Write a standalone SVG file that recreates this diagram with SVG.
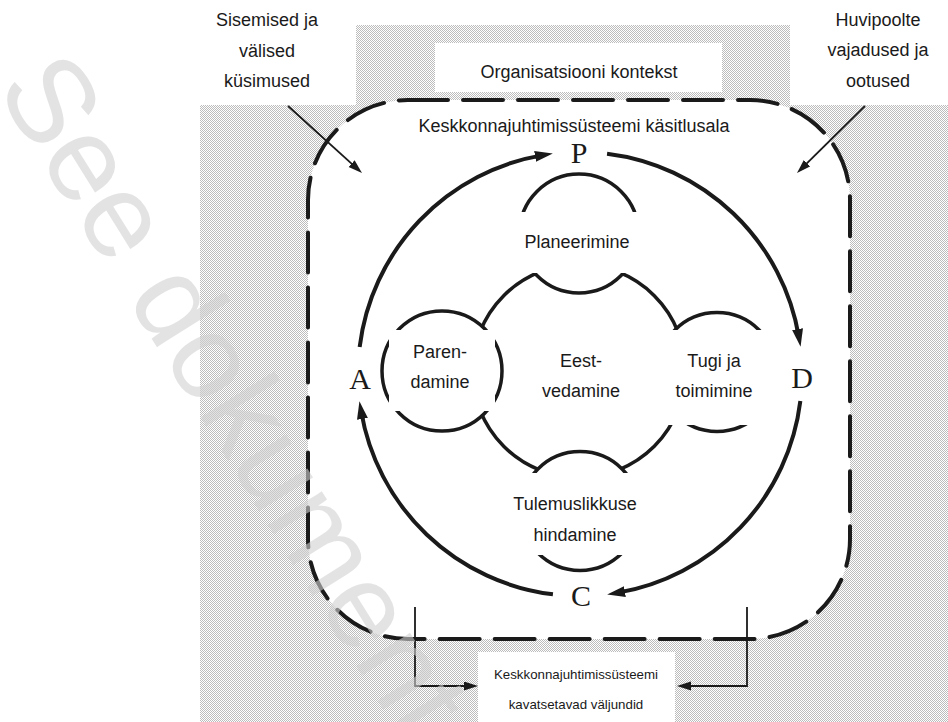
<svg xmlns="http://www.w3.org/2000/svg" width="948" height="722" viewBox="0 0 948 722">
<defs>
<pattern id="dots" width="2" height="2" patternUnits="userSpaceOnUse">
<rect width="2" height="2" fill="#ffffff"/>
<rect width="1" height="1" fill="#bcbcbc"/>
<rect x="1" y="1" width="1" height="1" fill="#bcbcbc"/>
</pattern>
<marker id="big" markerUnits="userSpaceOnUse" markerWidth="20" markerHeight="12" refX="8" refY="5.5" orient="auto">
<path d="M0,0 L18,5.5 L0,11 Z" fill="#1a1a1a"/>
</marker>
<marker id="small" markerUnits="userSpaceOnUse" markerWidth="15" markerHeight="10" refX="7" refY="4.5" orient="auto">
<path d="M0,0 L14,4.5 L0,9 Z" fill="#1a1a1a"/>
</marker>
<style>
.t{font-family:"Liberation Sans",Arial,sans-serif;font-size:18px;fill:#1a1a1a;text-anchor:middle}
.s{font-size:13.3px}
.L{font-family:"Liberation Serif","Times New Roman",serif;font-size:30px;fill:#1a1a1a;text-anchor:middle}
.cyc{fill:none;stroke:#1a1a1a;stroke-width:4;marker-end:url(#big)}
.thin{fill:none;stroke:#1a1a1a;stroke-width:1.8}
.c{fill:#ffffff;stroke:#1a1a1a;stroke-width:3.5}
.box{fill:#ffffff;stroke:none}
.wm{font-family:"Liberation Sans",Arial,sans-serif;font-size:120px;fill:#d0d0d0;fill-opacity:0.6}
</style>
</defs>
<rect width="948" height="722" fill="#ffffff"/>
<path d="M356,25 H790 V105 H948 V722 H200 V105 H356 Z" fill="url(#dots)"/>
<g id="context">
<rect class="box" x="435" y="43" width="287" height="49"/>
<text class="t" x="579" y="78">Organisatsiooni kontekst</text>
</g>
<g id="scope">
<rect x="308" y="100" width="542" height="539" rx="100" ry="100" fill="#ffffff" stroke="#1a1a1a" stroke-width="4" stroke-dasharray="40 15" stroke-linecap="round"/>
<text class="t" x="574" y="132">Keskkonnajuhtimissüsteemi käsitlusala</text>
</g>
<g id="issues">
<text class="t" x="267" y="26">Sisemised ja</text>
<text class="t" x="267" y="57">välised</text>
<text class="t" x="267" y="87">küsimused</text>
</g>
<g id="needs">
<text class="t" x="878" y="26">Huvipoolte</text>
<text class="t" x="878" y="56">vajadused ja</text>
<text class="t" x="878" y="87">ootused</text>
</g>
<g id="outputs">
<rect class="box" x="478" y="652" width="197" height="70"/>
<text class="t s" x="576" y="679">Keskkonnajuhtimissüsteemi</text>
<text class="t s" x="576" y="709">kavatsetavad väljundid</text>
</g>
<g id="connectors">
<path class="thin" d="M288,106 L356.8,168.3" marker-end="url(#small)"/>
<path class="thin" d="M865,106 L802,168.1" marker-end="url(#small)"/>
<path class="thin" d="M415,607 V686 H471" marker-end="url(#small)"/>
<path class="thin" d="M747,607 V686 H684" marker-end="url(#small)"/>
<path class="cyc" d="M359.65,346.94 A222,222 0 0 1 542.98,155.11"/>
<path class="cyc" d="M607.06,153.65 A222,222 0 0 1 798.89,336.98"/>
<path class="cyc" d="M800.35,401.06 A222,222 0 0 1 617.02,592.89"/>
<path class="cyc" d="M552.94,594.35 A222,222 0 0 1 361.11,411.02"/>
</g>
<g id="letters">
<text class="L" x="579" y="163">P</text>
<text class="L" x="802" y="388">D</text>
<text class="L" x="581" y="606">C</text>
<text class="L" x="360" y="389">A</text>
</g>
<g id="leadership">
<circle class="c" cx="579" cy="371" r="106.5"/>
<text class="t" x="581" y="367">Eest-</text>
<text class="t" x="581" y="397">vedamine</text>
</g>
<g id="planning">
<circle class="c" cx="579" cy="233.5" r="59.5"/>
<rect class="box" x="505" y="212" width="147" height="61"/>
<text class="t" x="577" y="248">Planeerimine</text>
</g>
<g id="support">
<circle class="c" cx="717" cy="372" r="59.5"/>
<rect class="box" x="655" y="330" width="125" height="95"/>
<text class="t" x="714" y="367">Tugi ja</text>
<text class="t" x="714" y="397">toimimine</text>
</g>
<g id="evaluation">
<circle class="c" cx="580" cy="511" r="59.5"/>
<rect class="box" x="505" y="473" width="150" height="82"/>
<text class="t" x="575" y="510">Tulemuslikkuse</text>
<text class="t" x="575" y="541">hindamine</text>
</g>
<g id="improvement">
<circle class="c" cx="442" cy="371" r="60"/>
<rect class="box" x="389" y="330" width="106" height="81"/>
<text class="t" x="440" y="358">Paren-</text>
<text class="t" x="440" y="388">damine</text>
</g>
<text class="wm" transform="translate(-5,88) rotate(58)">See dokument o</text>
</svg>
